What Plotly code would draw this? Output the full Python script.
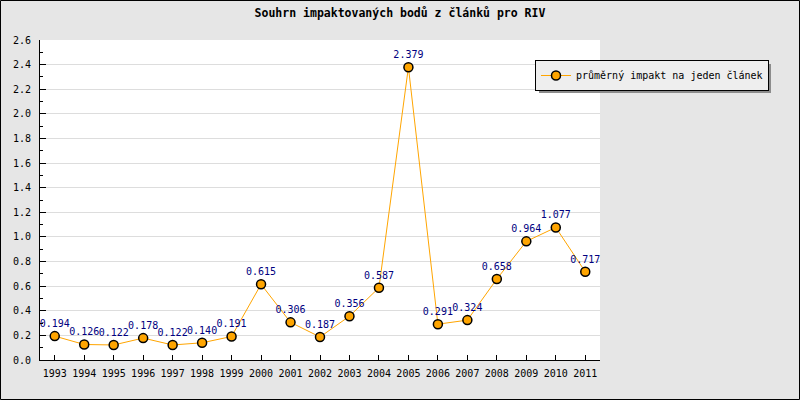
import plotly.graph_objects as go

years = [str(y) for y in range(1993, 2012)]
values = [0.194, 0.126, 0.122, 0.178, 0.122, 0.140, 0.191, 0.615, 0.306, 0.187,
          0.356, 0.587, 2.379, 0.291, 0.324, 0.658, 0.964, 1.077, 0.717]
labels = [f"{v:.3f}" for v in values]
series_name = "průměrný impakt na jeden článek"
title = "Souhrn impaktovaných bodů z článků pro RIV"

W, H = 800, 400
ML, MR, MT, MB = 40, 200, 40, 40
PW, PH = W - ML - MR, H - MT - MB

def px_x(p):
    return (p - ML) / PW

def px_y(p):
    return (H - MB - p) / PH

FONT = "DejaVu Sans Mono"

fig = go.Figure()
fig.add_trace(go.Scatter(
    x=years, y=values, mode="lines+markers+text", name=series_name,
    text=labels, textposition="top center",
    textfont=dict(family=FONT, size=10, color="#000080"),
    line=dict(color="#FFA500", width=1),
    marker=dict(color="#FFA500", size=9, line=dict(color="black", width=1.5)),
    cliponaxis=False,
))

shapes = [
    # outer border
    dict(type="rect", xref="paper", yref="paper",
         x0=px_x(0.5), x1=px_x(W - 0.5), y0=px_y(0.5), y1=px_y(H - 0.5),
         line=dict(color="black", width=1), layer="below"),
    # legend shadow
    dict(type="rect", xref="paper", yref="paper",
         x0=px_x(539), x1=px_x(771), y0=px_y(64), y1=px_y(93),
         fillcolor="#8c8c8c", line=dict(width=0), layer="below"),
]

fig.update_layout(
    width=W, height=H,
    margin=dict(l=ML, r=MR, t=MT, b=MB, pad=0),
    paper_bgcolor="#e6e6e6", plot_bgcolor="white",
    font=dict(family=FONT, size=10, color="black"),
    title=dict(text="<b>" + title + "</b>", x=0.5, xref="container",
               y=1 - 13 / H, yref="container", yanchor="middle",
               font=dict(family=FONT, size=11.5, color="black")),
    showlegend=True,
    legend=dict(x=px_x(535), y=px_y(60), xanchor="left", yanchor="top",
                bgcolor="#eeeeee", bordercolor="black", borderwidth=1,
                itemwidth=30, tracegroupgap=0,
                font=dict(family=FONT, size=10, color="black")),
    shapes=shapes,
    xaxis=dict(type="category", range=[-0.5, 18.5], showgrid=False,
               showline=True, linecolor="black", linewidth=1,
               ticks="inside", ticklen=5, tickcolor="black", ticklabelstandoff=4,
               tickfont=dict(family=FONT, size=10), fixedrange=True),
    yaxis=dict(range=[0, 2.6], dtick=0.2, tickformat=".1f",
               showgrid=True, gridcolor="#dddddd", gridwidth=1,
               showline=True, linecolor="black", linewidth=1,
               ticks="inside", ticklen=6, tickcolor="black", ticklabelstandoff=6,
               minor=dict(dtick=0.1, ticks="inside", ticklen=3, tickcolor="black", showgrid=False),
               zeroline=False, tickfont=dict(family=FONT, size=10), fixedrange=True),
)

fig.write_html("out.html")
